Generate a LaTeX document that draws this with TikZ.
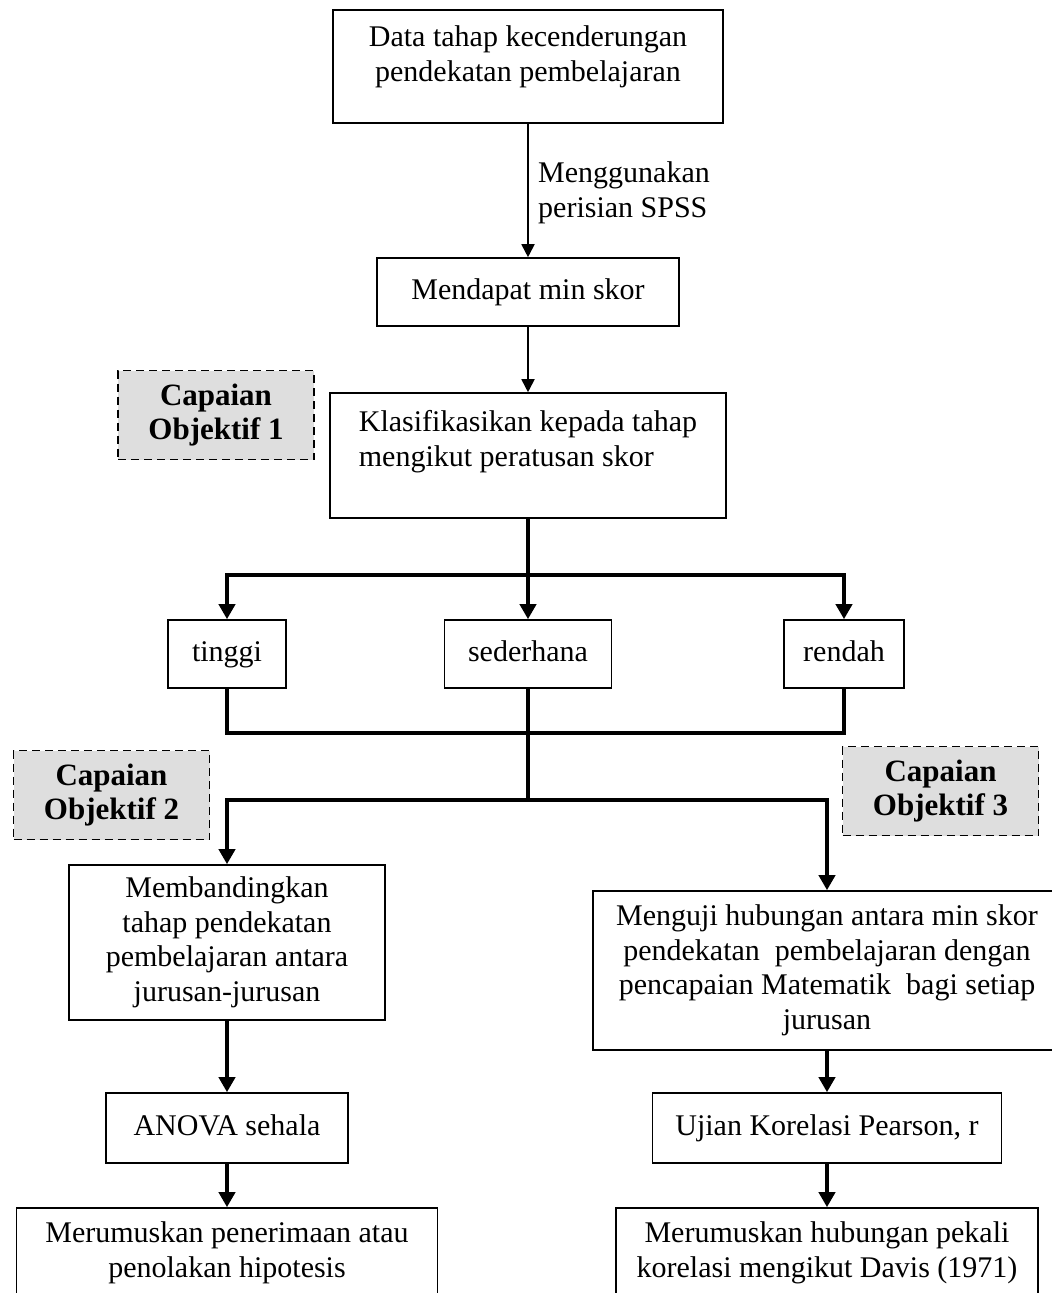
\documentclass[tikz,border=0pt]{standalone}
\usepackage{fontspec}
\setmainfont{Liberation Serif}
\usetikzlibrary{arrows.meta}
\newcommand\padbelow[1]{\rule[-#1]{0pt}{#1}}
\begin{document}
\begin{tikzpicture}[x=1pt,y=-1pt,
  txt/.style={font=\fontsize{30}{34.5}\selectfont, inner sep=0pt},
  box/.style={txt, draw, line width=1.6pt, align=center},
  onebox/.style={box, text height=21pt, text depth=7pt},
  goal/.style={draw, line width=1.6pt, dash pattern=on 8pt off 5pt, fill=black!13, inner sep=0pt, align=center, font=\fontsize{31}{34.5}\selectfont\bfseries, minimum width=196pt, minimum height=89pt},
  thinarrow/.style={line width=1.8pt, -{Triangle[width=13pt,length=13pt]}},
  boldline/.style={line width=4.5pt},
  boldarrow/.style={line width=4.5pt, -{Triangle[width=16pt,length=15pt]}},
]
\useasboundingbox (0,0) rectangle (1052,1293);
\clip (0,0) rectangle (1052,1293);
\fill[white] (0,0) rectangle (1052,1293);

% nodes
\node[box, minimum width=390pt, minimum height=113pt] (data) at (528,66.5) {Data tahap kecenderungan\\pendekatan pembelajaran\padbelow{26pt}};
\node[onebox, minimum width=302pt, minimum height=68pt] (mean) at (528,292) {Mendapat min skor};
\node[txt, anchor=west, align=left] (spss) at (538,193) {Menggunakan\\perisian SPSS};
\node[box, minimum width=396pt, minimum height=125pt, align=left] (klas) at (528,455.5) {Klasifikasikan kepada tahap\\mengikut peratusan skor\padbelow{34pt}};
\node[goal] (g1) at (216,415) {Capaian\\Objektif 1};
\node[onebox, minimum width=118pt, minimum height=68pt] (tinggi) at (227,654) {tinggi};
\node[onebox, minimum width=167pt, minimum height=68pt] (sed) at (528,654) {sederhana};
\node[onebox, minimum width=120pt, minimum height=68pt] (rendah) at (844,654) {rendah};
\node[goal] (g2) at (111.5,795) {Capaian\\Objektif 2};
\node[goal] (g3) at (940.5,791) {Capaian\\Objektif 3};
\node[box, minimum width=316pt, minimum height=155pt] (band) at (227,942.5) {Membandingkan\\tahap pendekatan\\pembelajaran antara\\jurusan-jurusan};
\node[box, minimum width=468pt, minimum height=159pt] (uji) at (827,970.5) {Menguji hubungan antara min skor\\pendekatan~ pembelajaran dengan\\pencapaian Matematik~ bagi setiap\\jurusan};
\node[onebox, minimum width=242pt, minimum height=70pt] (anova) at (227,1128) {ANOVA sehala};
\node[onebox, minimum width=349pt, minimum height=70pt] (ujian) at (827,1128) {Ujian Korelasi Pearson, r};
\node[box, minimum width=421pt, minimum height=90pt] (rum1) at (227,1253) {Merumuskan penerimaan atau\\penolakan hipotesis};
\node[box, minimum width=422pt, minimum height=90pt] (rum2) at (827,1253) {Merumuskan hubungan pekali\\korelasi mengikut Davis (1971)};

% junction points
\coordinate (b1) at (528,575);
\coordinate (j1) at (528,733);
\coordinate (b2) at (528,800);

% connectors
\draw[thinarrow] (data.south) -- (mean.north);
\draw[thinarrow] (mean.south) -- (klas.north);
\draw[boldline] (klas.south) -- (b1);
\draw[boldarrow] (b1) -| (tinggi.north);
\draw[boldarrow] (b1) -- (sed.north);
\draw[boldarrow] (b1) -| (rendah.north);
\draw[boldline] (tinggi.south) |- (j1) -| (rendah.south);
\draw[boldline] (sed.south) -- (j1) -- (b2);
\draw[boldarrow] (b2) -| (band.north);
\draw[boldarrow] (b2) -| (uji.north);
\draw[boldarrow] (band.south) -- (anova.north);
\draw[boldarrow] (uji.south) -- (ujian.north);
\draw[boldarrow] (anova.south) -- (rum1.north);
\draw[boldarrow] (ujian.south) -- (rum2.north);
\end{tikzpicture}
\end{document}
